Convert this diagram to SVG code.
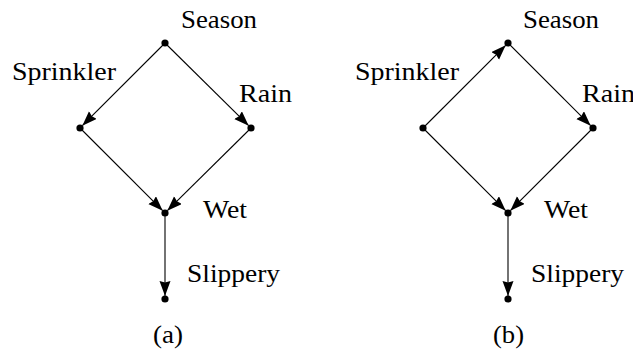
<svg xmlns="http://www.w3.org/2000/svg" width="633" height="358" viewBox="0 0 633 358">
<style>
.e{stroke:#000;stroke-width:1.1;fill:none;marker-end:url(#ah)}
.d{fill:#000}
</style>
<defs>
<marker id="ah" markerUnits="userSpaceOnUse" markerWidth="16" markerHeight="12" refX="15" refY="5.5" orient="auto" viewBox="0 0 16 12">
<path d="M0,0 L15,5.5 L0,11 L1.5,5.5 z" fill="#000"/>
</marker>
</defs>
<rect width="633" height="358" fill="#fff"/>
<g id="connectors">
<line class="e" x1="165" y1="43" x2="82.3" y2="125.7"/>
<line class="e" x1="165" y1="43" x2="248.7" y2="125.7"/>
<line class="e" x1="80" y1="128" x2="162.7" y2="210.7"/>
<line class="e" x1="251" y1="128" x2="167.3" y2="210.7"/>
<line class="e" x1="165" y1="213" x2="165" y2="296"/>
<line class="e" x1="423" y1="128" x2="505.7" y2="45.3"/>
<line class="e" x1="508" y1="43" x2="590.7" y2="125.7"/>
<line class="e" x1="423" y1="128" x2="505.7" y2="210.7"/>
<line class="e" x1="593" y1="128" x2="510.3" y2="210.7"/>
<line class="e" x1="508" y1="213" x2="508" y2="296"/>
</g>
<g font-family="Liberation Serif, DejaVu Serif, serif" font-size="26" fill="#000">
<g id="a-season"><circle class="d" cx="165" cy="43" r="3.6"/><text x="181" y="28" textLength="76" lengthAdjust="spacingAndGlyphs">Season</text></g>
<g id="a-sprinkler"><circle class="d" cx="80" cy="128" r="3.6"/><text x="12" y="80" textLength="104" lengthAdjust="spacingAndGlyphs">Sprinkler</text></g>
<g id="a-rain"><circle class="d" cx="251" cy="128" r="3.6"/><text x="239" y="102" textLength="53" lengthAdjust="spacingAndGlyphs">Rain</text></g>
<g id="a-wet"><circle class="d" cx="165" cy="213" r="3.6"/><text x="203" y="218" textLength="44" lengthAdjust="spacingAndGlyphs">Wet</text></g>
<g id="a-slippery"><circle class="d" cx="165" cy="299" r="3.6"/><text x="187" y="282" textLength="93" lengthAdjust="spacingAndGlyphs">Slippery</text></g>
<text x="153" y="343" textLength="30" lengthAdjust="spacingAndGlyphs">(a)</text>
<g id="b-season"><circle class="d" cx="508" cy="43" r="3.6"/><text x="523" y="28" textLength="76" lengthAdjust="spacingAndGlyphs">Season</text></g>
<g id="b-sprinkler"><circle class="d" cx="423" cy="128" r="3.6"/><text x="355" y="80" textLength="104" lengthAdjust="spacingAndGlyphs">Sprinkler</text></g>
<g id="b-rain"><circle class="d" cx="593" cy="128" r="3.6"/><text x="582" y="102" textLength="53" lengthAdjust="spacingAndGlyphs">Rain</text></g>
<g id="b-wet"><circle class="d" cx="508" cy="213" r="3.6"/><text x="544" y="218" textLength="44" lengthAdjust="spacingAndGlyphs">Wet</text></g>
<g id="b-slippery"><circle class="d" cx="508" cy="299" r="3.6"/><text x="531" y="282" textLength="93" lengthAdjust="spacingAndGlyphs">Slippery</text></g>
<text x="493" y="343" textLength="31" lengthAdjust="spacingAndGlyphs">(b)</text>
</g>
</svg>
